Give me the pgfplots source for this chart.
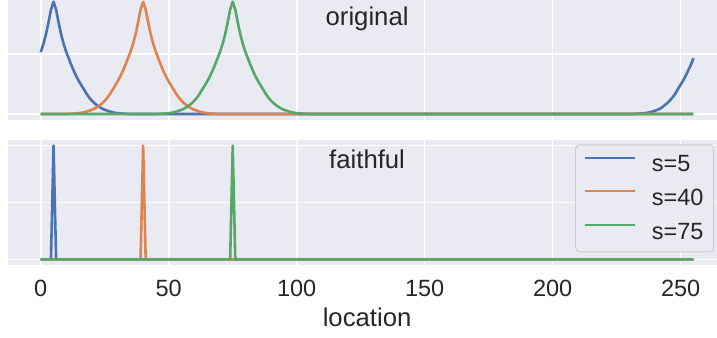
\documentclass[border=0pt]{standalone}
\usepackage{fontspec}
\setmainfont{Liberation Sans}
\usepackage{pgfplots}
\pgfplotsset{compat=1.18}
\definecolor{sbblue}{HTML}{4C72B0}
\definecolor{sborange}{HTML}{DD8452}
\definecolor{sbgreen}{HTML}{55A868}
\definecolor{sbbg}{HTML}{EAEAF2}
\definecolor{sbtext}{HTML}{262626}
\pgfplotsset{
  sbstyle/.style={
    scale only axis, width=708.9bp, xmin=-12.75, xmax=264.2,
    axis background/.style={fill=sbbg},
    axis line style={draw=none},
    major tick length=0pt,
    grid=major, grid style={white, line width=1.6bp},
    xtick={0,50,100,150,200,250},
    yticklabels={},
    /pgf/number format/assume math mode=true,
    xticklabel style={font=\fontsize{23.5bp}{28bp}\selectfont, text=sbtext, anchor=base, yshift=-31.7bp},
    every axis plot/.append style={line width=2.6bp, line join=round},
  }
}
\begin{document}
\begin{tikzpicture}
\useasboundingbox (0,0) rectangle (717bp,338bp);
% top axis
\begin{axis}[sbstyle, at={(8.1bp,218.4bp)}, anchor=south west, height=119.6bp,
  ymin=-0.0935, ymax=1.9, ytick={0,1}, xticklabels={}]
\addplot[sbblue] coordinates {(0,1.03)(1,1.16)(2,1.32)(3,1.52)(4,1.74)(5,1.87)(6,1.74)(7,1.52)(8,1.32)(9,1.16)(10,1.03)(11,0.92)(12,0.81)(13,0.71)(14,0.62)(15,0.54)(16,0.47)(17,0.40)(18,0.33)(19,0.27)(20,0.22)(21,0.18)(22,0.145)(23,0.115)(24,0.09)(25,0.07)(26,0.055)(27,0.04)(28,0.03)(29,0.02)(30,0.015)(31,0.01)(32,0.007)(33,0.004)(34,0.002)(35,0)(231,0)(232,0.002)(233,0.004)(234,0.007)(235,0.01)(236,0.015)(237,0.02)(238,0.03)(239,0.04)(240,0.055)(241,0.07)(242,0.09)(243,0.12)(244,0.155)(245,0.19)(246,0.235)(247,0.285)(248,0.345)(249,0.42)(250,0.49)(251,0.56)(252,0.64)(253,0.73)(254,0.82)(255,0.93)};
\addplot[sborange] coordinates {(0,0)(10,0)(11,0.002)(12,0.004)(13,0.007)(14,0.01)(15,0.015)(16,0.02)(17,0.03)(18,0.04)(19,0.055)(20,0.07)(21,0.09)(22,0.115)(23,0.145)(24,0.18)(25,0.22)(26,0.27)(27,0.33)(28,0.40)(29,0.47)(30,0.54)(31,0.62)(32,0.71)(33,0.81)(34,0.92)(35,1.03)(36,1.16)(37,1.32)(38,1.52)(39,1.74)(40,1.87)(41,1.74)(42,1.52)(43,1.32)(44,1.16)(45,1.03)(46,0.92)(47,0.81)(48,0.71)(49,0.62)(50,0.54)(51,0.47)(52,0.40)(53,0.33)(54,0.27)(55,0.22)(56,0.18)(57,0.145)(58,0.115)(59,0.09)(60,0.07)(61,0.055)(62,0.04)(63,0.03)(64,0.02)(65,0.015)(66,0.01)(67,0.007)(68,0.004)(69,0.002)(70,0)(255,0)};
\addplot[sbgreen] coordinates {(0,0)(45,0)(46,0.002)(47,0.004)(48,0.007)(49,0.01)(50,0.015)(51,0.02)(52,0.03)(53,0.04)(54,0.055)(55,0.07)(56,0.09)(57,0.115)(58,0.145)(59,0.18)(60,0.22)(61,0.27)(62,0.33)(63,0.40)(64,0.47)(65,0.54)(66,0.62)(67,0.71)(68,0.81)(69,0.92)(70,1.03)(71,1.16)(72,1.32)(73,1.52)(74,1.74)(75,1.87)(76,1.74)(77,1.52)(78,1.32)(79,1.16)(80,1.03)(81,0.92)(82,0.81)(83,0.71)(84,0.62)(85,0.54)(86,0.47)(87,0.40)(88,0.33)(89,0.27)(90,0.22)(91,0.18)(92,0.145)(93,0.115)(94,0.09)(95,0.07)(96,0.055)(97,0.04)(98,0.03)(99,0.02)(100,0.015)(101,0.01)(102,0.007)(103,0.004)(104,0.002)(105,0)(255,0)};
\node[anchor=base, text=sbtext, font=\fontsize{25.7bp}{30bp}\selectfont] at (axis cs:127.5,1.483) {original};
\end{axis}
% bottom axis
\begin{axis}[sbstyle, at={(8.1bp,73bp)}, anchor=south west, height=125bp,
  ymin=-0.05, ymax=1.05, ytick={0,0.5,1},
  xlabel={location},
  xlabel style={at={(axis description cs:0.5064,-0.4936)}, anchor=base, text=sbtext, font=\fontsize{25.7bp}{30bp}\selectfont},
  legend cell align=left,
  legend image code/.code={\draw[#1, line width=2.2bp] (0bp,7bp) -- (50bp,7bp);},
  legend style={at={(0.9958,0.9656)}, anchor=north east, fill=sbbg, draw=black!20, line width=1bp, rounded corners=4bp,
    font=\fontsize{23.5bp}{28bp}\selectfont, text=sbtext, inner xsep=8bp, inner ysep=9bp, row sep=12bp,
    /tikz/every odd column/.append style={column sep=14bp}},
]
\addplot[sbblue] coordinates {(0,0)(4,0)(5,1)(6,0)(255,0)};
\addlegendentry{s=5}
\addplot[sborange] coordinates {(0,0)(39,0)(40,1)(41,0)(255,0)};
\addlegendentry{s=40}
\addplot[sbgreen] coordinates {(0,0)(74,0)(75,1)(76,0)(255,0)};
\addlegendentry{s=75}
\node[anchor=base, text=sbtext, font=\fontsize{25.7bp}{30bp}\selectfont] at (axis cs:127.5,0.801) {faithful};
\end{axis}
\end{tikzpicture}
\end{document}
